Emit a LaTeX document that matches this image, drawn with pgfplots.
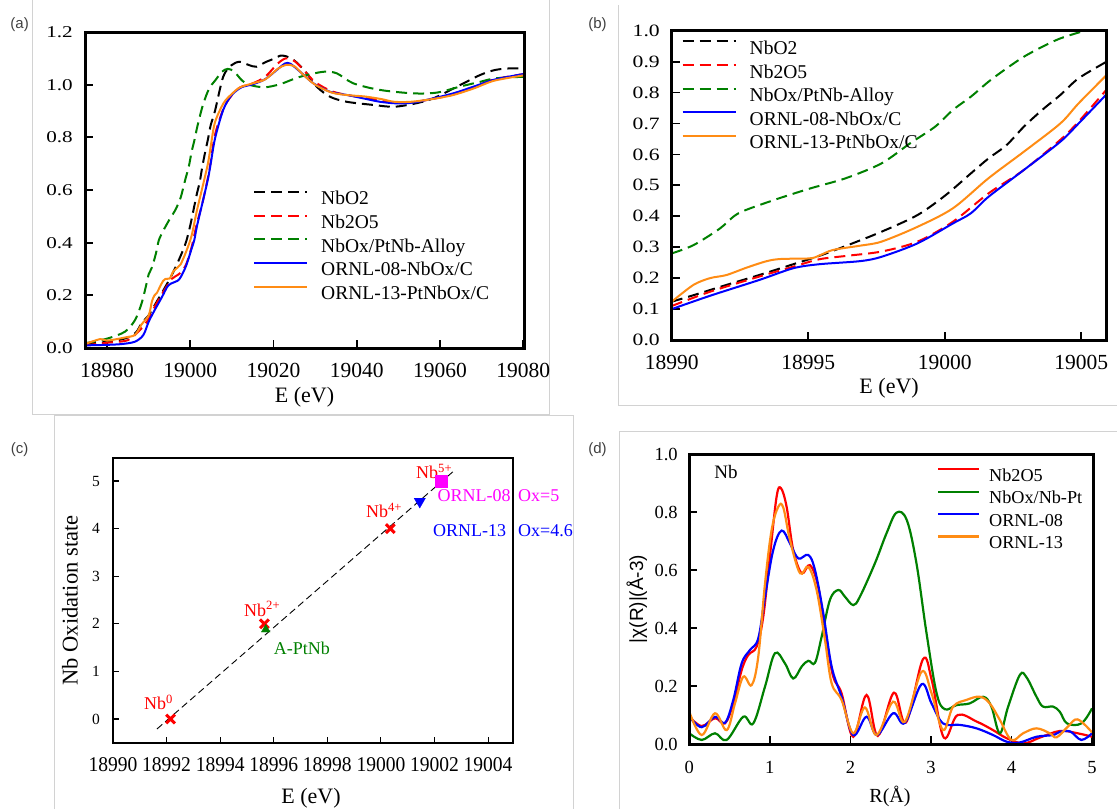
\documentclass[border=0pt]{standalone}
\usepackage{pgfplots}
\pgfplotsset{compat=1.18}
\usepackage{fontspec}
\setmainfont{Liberation Serif}
\setsansfont{Liberation Sans}

\newcommand{\fs}[1]{\fontsize{#1}{#1}\selectfont}
\definecolor{dgreen}{RGB}{0,128,0}
\definecolor{orng}{RGB}{255,140,20}
\definecolor{mgnt}{RGB}{255,0,255}
\definecolor{panelframe}{RGB}{210,210,210}
\definecolor{plab}{RGB}{64,64,64}

\pgfplotsset{
  panel/.style={
    scale only axis, anchor=south west,
    axis line style={line width=3pt},
    clip mode=individual,
    tick align=inside, tick pos=left,
    major tick length=8pt,
    tick style={line width=1.8pt, black},
    scaled ticks=false,
    /pgf/number format/assume math mode=true,
    legend cell align=left,
  },
  dsh/.style={dash pattern=on 11pt off 6pt, line width=2pt},
  sld/.style={solid, line width=2pt},
}
\newcommand{\boldframe}{\draw[line width=3pt, line join=miter] (rel axis cs:0,0) rectangle (rel axis cs:1,1);}

\begin{document}
\begin{tikzpicture}
\useasboundingbox (0,0) rectangle (1117pt,-809pt);

% light panel frames
\begin{scope}[draw=panelframe, line width=1pt]
\draw (32pt,0pt) -- (32pt,-414pt) -- (549pt,-414pt) -- (549pt,0pt);
\draw (618pt,-5pt) -- (618pt,-405pt) -- (1117pt,-405pt);
\draw (54pt,-809pt) -- (54pt,-415pt) -- (573pt,-415pt) -- (573pt,-809pt);
\draw (619pt,-809pt) -- (619pt,-431pt) -- (1117pt,-431pt);
\end{scope}

\node[font=\sffamily\fs{15}, text=plab] at (19.6pt,-25pt) {(a)};
\node[font=\sffamily\fs{15}, text=plab] at (597.5pt,-25pt) {(b)};
\node[font=\sffamily\fs{15}, text=plab] at (19.6pt,-450pt) {(c)};
\node[font=\sffamily\fs{15}, text=plab] at (597.5pt,-450pt) {(d)};

% ---------------- (a) ----------------
\begin{axis}[panel, at={(85pt,-348pt)}, width=439pt, height=316pt,
  xmin=18974.69, xmax=19080.2, ymin=0, ymax=1.2,
  xtick={18980,19000,19020,19040,19060,19080},
  ytick={0,0.2,0.4,0.6,0.8,1.0,1.2},
  xticklabel style={font=\fs{21.5}, anchor=center, yshift=-22.7pt, /pgf/number format/.cd, fixed, 1000 sep={}},
  yticklabel style={font=\fs{16.5}, anchor=east, inner sep=0pt, xshift=-12pt, xscale=1.28, /pgf/number format/.cd, fixed, fixed zerofill, precision=1},
  xlabel={E (eV)},
  xlabel style={font=\fs{22}, at={(axis description cs:0.5,-0.155)}, anchor=center},
  legend style={at={(0.3827,0.5116)}, anchor=north west, draw=none, fill=none, inner sep=0pt, row sep=0pt, column sep=13pt, font=\fs{19.5}, nodes={inner sep=0pt, text height=18.1pt, text depth=5.65pt}},
  legend image code/.code={\draw[#1] (0pt,6.45pt) -- (53pt,6.45pt);},
]
\addplot[black, dsh, smooth, tension=0.5] coordinates {
(18974.7,0.015) (18978,0.02) (18982,0.028) (18985,0.04) (18987,0.06) (18988.3,0.094)
(18990,0.124) (18990.8,0.145) (18992,0.178) (18993.2,0.21) (18994.45,0.245) (18995.4,0.272)
(18996.4,0.305) (18997.68,0.35) (18999,0.404) (19000.04,0.469) (19000.96,0.539) (19001.6,0.587)
(19002.26,0.63) (19002.9,0.69) (19003.57,0.744) (19004.23,0.792) (19004.9,0.846) (19005.93,0.90)
(19007.9,1.03) (19009.9,1.074) (19011.9,1.087) (19014,1.075) (19015.9,1.068) (19018,1.085)
(19020.3,1.10) (19021.6,1.11) (19023,1.108) (19024.8,1.094) (19026.5,1.07) (19028,1.043)
(19030.4,0.992) (19033.6,0.954) (19037.6,0.935) (19044,0.923) (19048.8,0.916) (19053.6,0.927)
(19058.4,0.948) (19064.9,0.999) (19069.7,1.037) (19073.3,1.056) (19077,1.062) (19080,1.062)};
\addlegendentry{NbO2}
\addplot[red, dsh, smooth, tension=0.5] coordinates {
(18974.7,0.01) (18980,0.02) (18985,0.03) (18988,0.07)
(18990,0.11) (18991.4,0.156) (18993.2,0.205) (18994.45,0.237) (18995.4,0.261) (18996.4,0.272)
(18997.68,0.286) (18999,0.318) (19000.3,0.3825) (19001.6,0.474) (19002.9,0.55) (19004.23,0.647)
(19004.9,0.706) (19005.93,0.81)
(19008,0.91) (19010,0.96) (19012,0.99) (19015,1.005) (19018,1.03) (19021,1.08) (19023,1.10)
(19025,1.09) (19027,1.06) (19030,1.01) (19034,0.975) (19038,0.96) (19042,0.95) (19046,0.94)
(19050,0.93) (19054,0.935) (19058,0.945) (19063,0.962) (19068,0.99) (19073,1.02) (19080,1.04)};
\addlegendentry{Nb2O5}
\addplot[dgreen, dsh, smooth, tension=0.5] coordinates {
(18974.7,0.018) (18977,0.025) (18980.3,0.037) (18984.3,0.062) (18986.7,0.106) (18988.3,0.17) (18989.5,0.246)
(18990,0.28) (18990.8,0.307) (18991.77,0.361) (18992.45,0.41) (18993.76,0.453) (18995.07,0.49)
(18996.37,0.523) (18997.68,0.571) (18998.73,0.636) (18999.65,0.69) (19000.3,0.744) (19000.96,0.787)
(19001.6,0.835) (19002.26,0.878) (19002.9,0.916) (19003.57,0.948) (19004.23,0.975) (19005.14,1.0)
(19005.93,1.015) (19007.6,1.049) (19009,1.06) (19010.5,1.05) (19012.5,1.015) (19014.3,0.999)
(19017.8,0.99) (19021.6,1.002) (19026.4,1.03) (19032,1.049) (19035.2,1.043) (19039.2,1.005)
(19045.6,0.98) (19053.6,0.967) (19059.3,0.97) (19064.9,0.993) (19069.7,1.011) (19073.3,1.024) (19080,1.03)};
\addlegendentry{NbOx/PtNb-Alloy}
\addplot[blue, sld, smooth, tension=0.5] coordinates {
(18974.7,0.01) (18980,0.012) (18983.5,0.015) (18986.7,0.024) (18988.7,0.049)
(18990,0.10) (18991.4,0.143) (18993.2,0.194) (18994.45,0.232) (18995.4,0.245) (18996.9,0.255)
(18997.68,0.269) (18999,0.3125) (19000.3,0.377) (19000.96,0.41) (19001.6,0.463) (19002.9,0.55)
(19004.23,0.641) (19004.9,0.70) (19005.93,0.795)
(19007.9,0.904) (19009.9,0.96) (19012.3,0.99) (19014.7,1.0) (19017.9,1.02) (19021.1,1.06)
(19022.7,1.08) (19024,1.08) (19026.4,1.049) (19029.6,1.005) (19033.6,0.973) (19037.6,0.961)
(19041.6,0.948) (19045.6,0.935) (19049.6,0.929) (19053.6,0.932) (19058.4,0.948) (19063.2,0.967)
(19068,0.992) (19073.3,1.02) (19080,1.04)};
\addlegendentry{ORNL-08-NbOx/C}
\addplot[orng, sld, smooth, tension=0.5] coordinates {
(18974.7,0.015) (18978.4,0.034) (18980,0.028) (18984.3,0.04) (18986.7,0.05) (18988.3,0.09)
(18990,0.124) (18990.79,0.178) (18991.4,0.20) (18992,0.21) (18992.74,0.234) (18993.48,0.255)
(18994,0.262) (18995.06,0.264) (18995.4,0.273) (18995.9,0.291) (18996.9,0.305) (18997.68,0.318)
(18999,0.366) (19000.3,0.426) (19001.6,0.523) (19002.9,0.609) (19004.23,0.70) (19004.9,0.765)
(19005.93,0.857)
(19008,0.93) (19010,0.965) (19012,0.99) (19015,1.005) (19018,1.02) (19021,1.06) (19023,1.075)
(19025,1.07) (19027,1.04) (19030,1.0) (19034,0.97) (19038,0.96) (19042,0.955) (19046,0.945)
(19049,0.935) (19053,0.935) (19058,0.945) (19063,0.96) (19068,0.985) (19073,1.015) (19080,1.035)};
\addlegendentry{ORNL-13-PtNbOx/C}
\boldframe
\end{axis}

% ---------------- (b) ----------------
\begin{axis}[panel, at={(671.8pt,-340pt)}, width=434.6pt, height=309.3pt,
  xmin=18990, xmax=19005.92, ymin=0, ymax=1,
  xtick={18990,18995,19000,19005},
  ytick={0,0.1,0.2,0.3,0.4,0.5,0.6,0.7,0.8,0.9,1.0},
  xticklabel style={font=\fs{21.5}, anchor=center, yshift=-22.5pt, /pgf/number format/.cd, fixed, 1000 sep={}},
  yticklabel style={font=\fs{17.3}, anchor=east, inner sep=0pt, xshift=-11.8pt, xscale=1.25, /pgf/number format/.cd, fixed, fixed zerofill, precision=1},
  xlabel={E (eV)},
  xlabel style={font=\fs{22}, at={(axis description cs:0.5,-0.155)}, anchor=center},
  legend style={at={(0.0221,0.9833)}, anchor=north west, draw=none, fill=none, inner sep=0pt, row sep=0pt, column sep=12.5pt, font=\fs{19.5}, nodes={inner sep=0pt, text height=18.28pt, text depth=5.38pt}},
  legend image code/.code={\draw[#1] (0pt,6.45pt) -- (53.6pt,6.45pt);},
]
\addplot[black, dsh, smooth, tension=0.5] coordinates {
(18990,0.124) (18990.8,0.145) (18992,0.178) (18993.2,0.21) (18994.45,0.245) (18995.4,0.272)
(18996.4,0.305) (18997.68,0.35) (18999,0.404) (19000.04,0.469) (19000.96,0.539) (19001.6,0.587)
(19002.26,0.63) (19002.9,0.69) (19003.57,0.744) (19004.23,0.792) (19004.9,0.846) (19005.93,0.90)};
\addlegendentry{NbO2}
\addplot[red, dsh, smooth, tension=0.5] coordinates {
(18990,0.11) (18991.4,0.156) (18993.2,0.205) (18994.45,0.237) (18995.4,0.261) (18996.4,0.272)
(18997.68,0.286) (18999,0.318) (19000.3,0.3825) (19001.6,0.474) (19002.9,0.55) (19004.23,0.647)
(19004.9,0.706) (19005.93,0.81)};
\addlegendentry{Nb2O5}
\addplot[dgreen, dsh, smooth, tension=0.5] coordinates {
(18990,0.28) (18990.8,0.307) (18991.77,0.361) (18992.45,0.41) (18993.76,0.453) (18995.07,0.49)
(18996.37,0.523) (18997.68,0.571) (18998.73,0.636) (18999.65,0.69) (19000.3,0.744) (19000.96,0.787)
(19001.6,0.835) (19002.26,0.878) (19002.9,0.916) (19003.57,0.948) (19004.23,0.975) (19005.14,1.0)
(19005.93,1.015)};
\addlegendentry{NbOx/PtNb-Alloy}
\addplot[blue, sld, smooth, tension=0.5] coordinates {
(18990,0.10) (18991.4,0.143) (18993.2,0.194) (18994.45,0.232) (18995.4,0.245) (18996.9,0.255)
(18997.68,0.269) (18999,0.3125) (19000.3,0.377) (19000.96,0.41) (19001.6,0.463) (19002.9,0.55)
(19004.23,0.641) (19004.9,0.70) (19005.93,0.795)};
\addlegendentry{ORNL-08-NbOx/C}
\addplot[orng, sld, smooth, tension=0.5] coordinates {
(18990,0.124) (18990.79,0.178) (18991.4,0.20) (18992,0.21) (18992.74,0.234) (18993.48,0.255)
(18994,0.262) (18995.06,0.264) (18995.4,0.273) (18995.9,0.291) (18996.9,0.305) (18997.68,0.318)
(18999,0.366) (19000.3,0.426) (19001.6,0.523) (19002.9,0.609) (19004.23,0.70) (19004.9,0.765)
(19005.93,0.857)};
\addlegendentry{ORNL-13-PtNbOx/C}
\boldframe
\end{axis}

% ---------------- (c) ----------------
\begin{axis}[at={(113pt,-743pt)}, anchor=south west, scale only axis, width=400pt, height=285pt,
  axis line style={line width=1.3pt},
  xmin=18990, xmax=19004.93, ymin=-0.504, ymax=5.483,
  xtick={18990,18992,18994,18996,18998,19000,19002,19004},
  ytick={0,1,2,3,4,5},
  tick align=inside, tick pos=left, major tick length=6pt,
  tick style={line width=1.1pt, black},
  scaled ticks=false, clip=false,
  /pgf/number format/assume math mode=true,
  xticklabel style={font=\fs{21}, xscale=0.93, anchor=center, yshift=-21.2pt, /pgf/number format/.cd, fixed, 1000 sep={}},
  yticklabel style={font=\fs{15.5}, anchor=east, inner sep=0pt, xshift=-13pt},
  xlabel={E (eV)},
  xlabel style={font=\fs{22}, at={(axis description cs:0.495,-0.193)}, anchor=center},
  ylabel={Nb Oxidation state},
  ylabel style={font=\fs{22.5}, at={(axis description cs:-0.1075,0.5)}, anchor=center},
]
\addplot[black, dash pattern=on 7pt off 4pt, line width=0.9pt] coordinates {(18991.64,-0.21) (19002.76,5.23)};
\addplot[only marks, mark=x, mark size=6.2pt, red, mark options={line width=3pt}] coordinates {
(18992.15,0) (18995.65,2) (19000.35,4)};
\addplot[only marks, mark=square*, mark size=5.8pt, mgnt] coordinates {(19002.25,5)};
\addplot[only marks, mark=triangle*, mark size=6.5pt, blue, mark options={rotate=180}] coordinates {(19001.45,4.57)};
\addplot[only marks, mark=triangle*, mark size=5pt, dgreen] coordinates {(18995.7,1.88)};
\node[anchor=base west, inner sep=0pt, red, font=\fs{18}] at (axis cs:18991.157,0.19) {Nb\textsuperscript{0}};
\node[anchor=base west, inner sep=0pt, red, font=\fs{18}] at (axis cs:18994.89,2.164) {Nb\textsuperscript{2+}};
\node[anchor=base west, inner sep=0pt, red, font=\fs{18}] at (axis cs:18999.44,4.237) {Nb\textsuperscript{4+}};
\node[anchor=base west, inner sep=0pt, red, font=\fs{18}] at (axis cs:19001.31,5.056) {Nb\textsuperscript{5+}};
\node[anchor=base west, inner sep=0pt, dgreen, font=\fs{18}] at (axis cs:18996.0,1.345) {A-PtNb};
\end{axis}
\node[anchor=base west, inner sep=0pt, mgnt, font=\fs{18}] at (437.5pt,-501.7pt) {ORNL-08};
\node[anchor=base west, inner sep=0pt, mgnt, font=\fs{18}] at (518pt,-501.7pt) {Ox=5};
\node[anchor=base west, inner sep=0pt, blue, font=\fs{18}] at (433pt,-536pt) {ORNL-13};
\node[anchor=base west, inner sep=0pt, blue, font=\fs{18}] at (518pt,-536pt) {Ox=4.6};

% ---------------- (d) ----------------
\begin{axis}[panel, at={(689.3pt,-744pt)}, width=403.9pt, height=290pt,
  xmin=0, xmax=5.014, ymin=0, ymax=1,
  xtick={0,1,2,3,4,5},
  ytick={0,0.2,0.4,0.6,0.8,1.0},
  xticklabel style={font=\fs{18.5}, anchor=center, yshift=-23.5pt},
  yticklabel style={font=\fs{18.5}, anchor=east, inner sep=0pt, xshift=-11.4pt, /pgf/number format/.cd, fixed, fixed zerofill, precision=1},
  xlabel={R(Å)},
  xlabel style={font=\fs{20}, at={(axis description cs:0.497,-0.182)}, anchor=center},
  ylabel={\sffamily |χ(R)|(Å-3)},
  ylabel style={font=\fs{19}, at={(axis description cs:-0.13,0.5)}, anchor=center},
  legend style={at={(0.6128,0.9662)}, anchor=north west, draw=none, fill=none, inner sep=0pt, row sep=0pt, column sep=9pt, font=\fs{18.2}, nodes={inner sep=0pt, text height=17.2pt, text depth=5.2pt}},
  legend image code/.code={\draw[#1] (0pt,6pt) -- (41pt,6pt);},
]
\addplot[red, line width=2.2pt, smooth, tension=0.6] coordinates {
(0,0.094) (0.154,0.062) (0.319,0.089) (0.443,0.071) (0.546,0.14) (0.65,0.255) (0.732,0.307)
(0.836,0.336) (0.918,0.439) (1.0,0.646) (1.084,0.853) (1.138,0.882) (1.208,0.818) (1.29,0.669)
(1.395,0.589) (1.498,0.617) (1.6,0.542) (1.705,0.359) (1.787,0.232) (1.89,0.175) (2.035,0.025)
(2.2,0.169) (2.34,0.028) (2.54,0.177) (2.69,0.074) (2.9,0.292) (3.01,0.22) (3.16,0.022)
(3.33,0.1) (3.57,0.077) (3.77,0.048) (3.94,0.02) (4.15,0.002) (4.35,0.022) (4.6,0.045)
(4.82,0.037) (5.0,0.025)};
\addlegendentry{Nb2O5}
\addplot[dgreen, line width=2.2pt, smooth, tension=0.6] coordinates {
(0,0.037) (0.154,0.014) (0.319,0.037) (0.464,0.014) (0.67,0.094) (0.794,0.071) (0.94,0.198)
(1.063,0.313) (1.187,0.278) (1.29,0.226) (1.395,0.267) (1.477,0.287) (1.56,0.28) (1.643,0.37)
(1.746,0.497) (1.85,0.531) (1.932,0.508) (2.035,0.479) (2.118,0.508) (2.304,0.623) (2.449,0.727)
(2.573,0.798) (2.7,0.772) (2.82,0.623) (2.945,0.382) (3.07,0.175) (3.172,0.12) (3.317,0.134)
(3.48,0.14) (3.648,0.163) (3.75,0.129) (3.855,0.037) (3.958,0.129) (4.103,0.238) (4.186,0.23)
(4.31,0.163) (4.39,0.129) (4.516,0.129) (4.6,0.111) (4.69,0.071) (4.867,0.071) (5.0,0.123)};
\addlegendentry{NbOx/Nb-Pt}
\addplot[blue, line width=2.2pt, smooth, tension=0.6] coordinates {
(0,0.094) (0.154,0.058) (0.319,0.094) (0.443,0.073) (0.546,0.152) (0.65,0.278) (0.753,0.324)
(0.856,0.364) (0.94,0.508) (1.042,0.669) (1.146,0.736) (1.25,0.692) (1.353,0.64) (1.477,0.652)
(1.56,0.60) (1.663,0.451) (1.767,0.267) (1.89,0.163) (2.035,0.031) (2.2,0.094) (2.33,0.031)
(2.53,0.106) (2.676,0.073) (2.883,0.206) (3.007,0.14) (3.15,0.071) (3.358,0.066) (3.566,0.054)
(3.77,0.031) (3.94,0.008) (4.1,0.005) (4.31,0.025) (4.516,0.031) (4.6,0.042) (4.73,0.043)
(4.867,0.014) (5.0,0.037)};
\addlegendentry{ORNL-08}
\addplot[orng, line width=2.2pt, smooth, tension=0.6] coordinates {
(0,0.111) (0.154,0.031) (0.319,0.106) (0.464,0.048) (0.567,0.14) (0.67,0.232) (0.774,0.203)
(0.856,0.301) (0.94,0.554) (1.022,0.738) (1.105,0.818) (1.167,0.815) (1.25,0.703) (1.374,0.589)
(1.477,0.611) (1.58,0.531) (1.684,0.359) (1.767,0.209) (1.89,0.152) (2.035,0.037) (2.18,0.126)
(2.325,0.031) (2.53,0.146) (2.676,0.077) (2.883,0.249) (3.007,0.175) (3.15,0.048) (3.275,0.129)
(3.44,0.152) (3.607,0.163) (3.73,0.14) (3.855,0.083) (3.999,0.014) (4.144,0.037) (4.31,0.054)
(4.475,0.037) (4.56,0.023) (4.7,0.06) (4.82,0.085) (5.0,0.04)};
\addlegendentry{ORNL-13}
\node[anchor=base west, inner sep=0pt, font=\fs{19}] at (axis cs:0.31,0.914) {Nb};
\boldframe
\end{axis}
\end{tikzpicture}
\end{document}
